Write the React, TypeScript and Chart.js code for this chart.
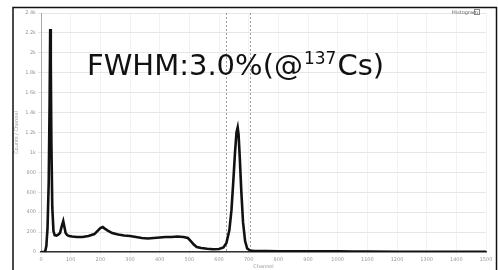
import React, { useEffect, useRef } from "react";
import { Chart, registerables } from "chart.js";

Chart.register(...registerables);

const channels = [0, 10, 14, 18, 22, 26, 29, 31, 33, 35, 38, 42, 46, 52, 58, 64, 70, 75, 79, 83, 88, 95, 105, 120, 140, 160, 180, 190, 200, 208, 215, 225, 240, 260, 280, 300, 320, 340, 360, 380, 400, 420, 440, 460, 480, 495, 505, 515, 525, 540, 560, 580, 600, 615, 625, 635, 642, 648, 654, 659, 663, 666, 670, 675, 681, 688, 695, 705, 720, 760, 800, 850, 900, 950, 1000, 1050, 1100, 1200, 1300, 1400, 1500];
const counts = [0, 0, 5, 60, 240, 700, 1500, 2240, 1900, 1100, 450, 210, 170, 165, 175, 190, 260, 310, 250, 190, 170, 160, 155, 150, 150, 160, 180, 210, 240, 250, 235, 215, 190, 175, 165, 160, 150, 140, 135, 140, 145, 150, 150, 155, 150, 140, 110, 75, 50, 40, 32, 28, 30, 45, 90, 220, 420, 700, 1000, 1200, 1250, 1180, 950, 620, 300, 110, 35, 14, 10, 9, 8, 8, 6, 6, 7, 5, 4, 3, 3, 2, 2];
const roiLines = [625, 706];
const yTicksMax = 2400;
const xTicksMax = 1500;
const annotationMain = "FWHM:3.0%(@";
const annotationSup = "137";
const annotationEnd = "Cs)";
const legendLabel = "Histogram";
const yTitle = "Counts / Channel";
const xTitle = "Channel";

const framePlugin = {
  id: "framePlugin",
  beforeDraw(chart: any) {
    const ctx = chart.ctx;
    ctx.save();
    ctx.fillStyle = "#ffffff";
    ctx.fillRect(0, 0, chart.width, chart.height);
    ctx.strokeStyle = "#111";
    ctx.lineWidth = 1.5;
    ctx.strokeRect(13, 7.5, 483.5, 280);
    ctx.restore();
  },
  beforeDatasetsDraw(chart: any) {
    const ctx = chart.ctx;
    const xs = chart.scales.x;
    const area = chart.chartArea;
    ctx.save();
    ctx.strokeStyle = "#9a9a9a";
    ctx.lineWidth = 1;
    ctx.setLineDash([2, 2]);
    roiLines.forEach((v) => {
      const px = Math.round(xs.getPixelForValue(v)) + 0.5;
      ctx.beginPath();
      ctx.moveTo(px, area.top);
      ctx.lineTo(px, area.bottom);
      ctx.stroke();
    });
    ctx.restore();
  },
  afterDraw(chart: any) {
    const ctx = chart.ctx;
    ctx.save();
    ctx.fillStyle = "#111";
    ctx.textBaseline = "alphabetic";
    ctx.font = '29px "DejaVu Sans"';
    let x = 87;
    const base = 75;
    ctx.fillText(annotationMain, x, base);
    x += ctx.measureText(annotationMain).width + 1;
    ctx.font = '17px "DejaVu Sans"';
    ctx.fillText(annotationSup, x, base - 11);
    x += ctx.measureText(annotationSup).width + 1;
    ctx.font = '29px "DejaVu Sans"';
    ctx.fillText(annotationEnd, x, base);
    // legend
    ctx.font = '5px "DejaVu Sans"';
    ctx.fillStyle = "#666";
    ctx.fillText(legendLabel, 452, 14);
    ctx.strokeStyle = "#888";
    ctx.lineWidth = 1;
    ctx.strokeRect(474.5, 9.5, 5, 5);
    ctx.restore();
  },
};

export default function App() {
  const ref = useRef<HTMLCanvasElement | null>(null);
  useEffect(() => {
    document.body.style.margin = "0";
    if (!ref.current) return;
    const chart = new Chart(ref.current, {
      type: "line",
      data: {
        datasets: [
          {
            data: channels.map((c, i) => ({ x: c, y: counts[i] })),
            borderColor: "#111",
            borderWidth: 2.6,
            pointRadius: 0,
            tension: 0,
            fill: false,
          },
        ],
      },
      options: {
        responsive: false,
        animation: false,
        layout: { padding: { top: 13, right: 12, left: 14, bottom: 0 } },
        plugins: { legend: { display: false }, tooltip: { enabled: false } },
        scales: {
          x: {
            type: "linear",
            min: 0,
            max: xTicksMax,
            ticks: {
              stepSize: 100,
              font: { size: 5, family: "DejaVu Sans" },
              color: "#999",
              maxRotation: 0,
              padding: 2,
              callback: (v: any) => String(v),
            },
            grid: { color: "#f2f2f2", tickLength: 3 },
            border: { color: "#333", width: 1.5 },
            title: { display: true, text: xTitle, font: { size: 5, family: "DejaVu Sans" }, color: "#999", padding: 0 },
            afterFit: (s: any) => { s.height = 18; },
          },
          y: {
            min: 0,
            max: yTicksMax,
            ticks: {
              stepSize: 200,
              font: { size: 5, family: "DejaVu Sans" },
              color: "#999",
              padding: 2,
              callback: (v: any) => (v >= 1000 ? v / 1000 + "k" : String(v)),
            },
            grid: { color: "#e6e6e6", tickLength: 3 },
            border: { color: "#aaa" },
            title: { display: true, text: yTitle, font: { size: 5, family: "DejaVu Sans" }, color: "#999", padding: 0 },
            afterFit: (s: any) => { s.width = 27; },
          },
        },
      },
      plugins: [framePlugin],
    });
    return () => chart.destroy();
  }, []);
  return <canvas ref={ref} width={498} height={270} style={{ display: "block" }} />;
}
